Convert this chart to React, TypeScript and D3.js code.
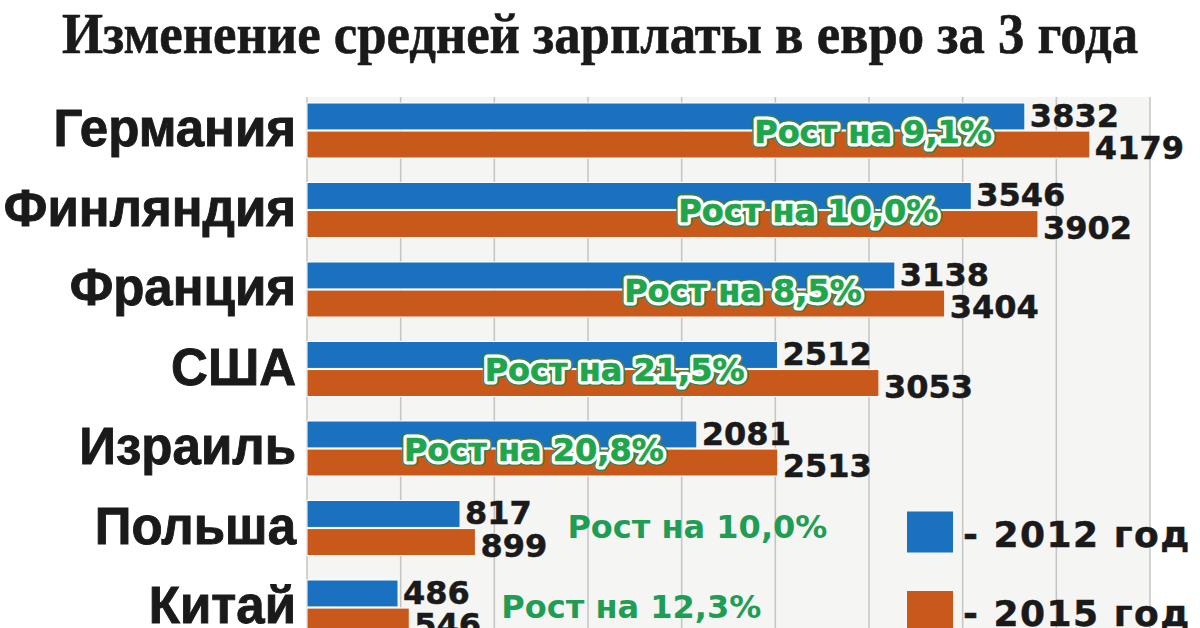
import React from 'react';
import * as d3 from 'd3';

const countries = ['Германия', 'Финляндия', 'Франция', 'США', 'Израиль', 'Польша', 'Китай'];
const salary2012 = [3832, 3546, 3138, 2512, 2081, 817, 486];
const salary2015 = [4179, 3902, 3404, 3053, 2513, 899, 546];
const growth = ['9,1', '10,0', '8,5', '21,5', '20,8', '10,0', '12,3'];
const years = ['2012', '2015'];
const gridTicks = [0, 500, 1000, 1500, 2000, 2500, 3000, 3500, 4000, 4500];

const W = 1200;
const H = 628;
const BLUE = '#1a71c0';
const ORANGE = '#c8591a';
const GREEN = '#1fa64c';
const INK = '#1a1a1a';

const App: React.FC = () => {
  const x = d3.scaleLinear().domain([0, 4500]).range([307, 1150]);
  const y = d3.scaleBand<string>()
    .domain(countries)
    .range([103, 635])
    .paddingInner(24.5 / 79.5)
    .paddingOuter(0);
  const sub = d3.scaleBand<string>().domain(years).range([0, y.bandwidth()]).paddingInner(0.04);

  const rows = countries.map((c, i) => ({
    country: c,
    v12: salary2012[i],
    v15: salary2015[i],
    growth: growth[i],
  }));

  const legendRows = [
    { year: years[0], color: BLUE, country: countries[5] },
    { year: years[1], color: ORANGE, country: countries[6] },
  ];

  return (
    <svg width={W} height={H} style={{ position: 'absolute', left: 0, top: 0, background: '#fff' }}>
      {/* plot background + grid */}
      <rect x={x(0)} y={97} width={x(4500) - x(0)} height={H - 97} fill="#f5f5f4" />
      {gridTicks.map(t => (
        <line key={t} x1={x(t)} x2={x(t)} y1={97} y2={H} stroke="#c4c4c4" strokeWidth={1.5} />
      ))}

      <text x={600} y={53} textAnchor="middle" fontFamily="'Liberation Serif', serif" fontWeight="bold"
        fontSize={56} fill={INK} stroke={INK} strokeWidth={0.6} textLength={1076} lengthAdjust="spacingAndGlyphs">
        Изменение средней зарплаты в евро за 3 года
      </text>

      {rows.map(r => {
        const top = y(r.country) as number;
        const mid = top + y.bandwidth() / 2;
        const y12 = top + (sub('2012') as number);
        const y15 = top + (sub('2015') as number);
        const bh = sub.bandwidth();
        const inside = r.v12 > 1500;
        const label = `Рост на ${r.growth}%`;
        return (
          <g key={r.country}>
            <text x={296} y={mid + 15.5} textAnchor="end" fontFamily="'Liberation Sans', Arial, sans-serif"
              fontWeight="bold" fontSize={51} fill={INK} stroke={INK} strokeWidth={0.9}>{r.country}</text>
            <rect x={x(0)} y={y12} width={x(r.v12) - x(0)} height={bh} fill={BLUE} stroke="#fff" strokeWidth={1} />
            <rect x={x(0)} y={y15} width={x(r.v15) - x(0)} height={bh} fill={ORANGE} stroke="#fff" strokeWidth={1} />
            <text x={x(r.v12) + 5} y={y12 + bh - 3} fontFamily="'DejaVu Sans', sans-serif" fontWeight="bold"
              fontSize={32} fill={INK} stroke={INK} strokeWidth={0.5}>{r.v12}</text>
            <text x={x(r.v15) + 5} y={y15 + bh + 1} fontFamily="'DejaVu Sans', sans-serif" fontWeight="bold"
              fontSize={32} fill={INK} stroke={INK} strokeWidth={0.5}>{r.v15}</text>
            {inside ? (
              <g fontFamily="'DejaVu Sans', sans-serif" fontWeight="bold" fontSize={32} textAnchor="end">
                <text x={x(r.v12) - 33} y={mid + 12} fill="none" stroke="#3d7f4c" strokeWidth={10}
                  strokeLinejoin="round">{label}</text>
                <text x={x(r.v12) - 33} y={mid + 12} fill="none" stroke="#fff" strokeWidth={7}
                  strokeLinejoin="round">{label}</text>
                <text x={x(r.v12) - 33} y={mid + 12} fill={GREEN} stroke={GREEN} strokeWidth={0.6}>{label}</text>
              </g>
            ) : (
              <text x={x(r.v15) + 92} y={mid + 10} fontFamily="'DejaVu Sans', sans-serif" fontWeight="bold"
                fontSize={32} fill="#1f9d55">{label}</text>
            )}
          </g>
        );
      })}

      {legendRows.map(l => {
        const top = (y(l.country) as number) + 11;
        return (
          <g key={l.year}>
            <rect x={907} y={top} width={46} height={41} fill={l.color} />
            <text x={963} y={top + 35} fontFamily="'DejaVu Sans', sans-serif" fontWeight="bold"
              fontSize={36} letterSpacing={1.5} fill={INK} stroke={INK} strokeWidth={0.5}>{`- ${l.year} год`}</text>
          </g>
        );
      })}
    </svg>
  );
};

export default App;
